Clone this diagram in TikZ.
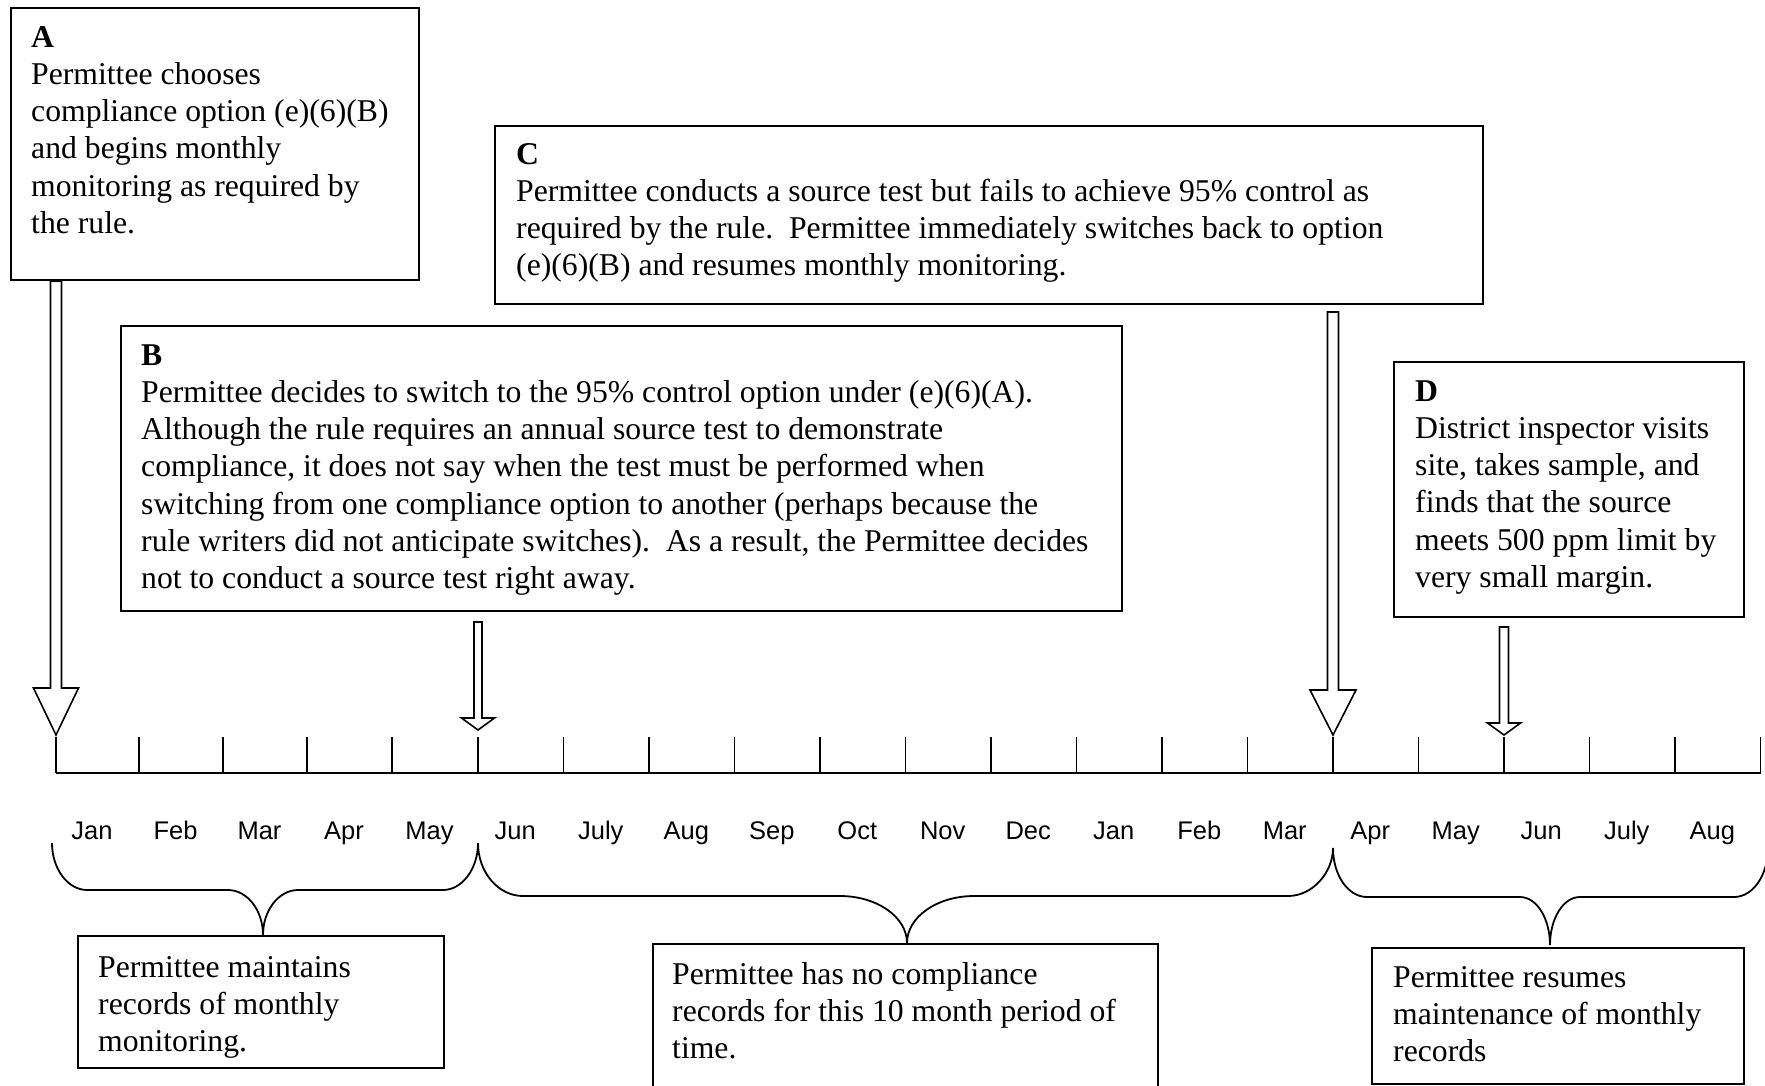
\documentclass[tikz,border=0pt]{standalone}
\usepackage{fontspec}
\setmainfont{Liberation Serif}
\setsansfont{Liberation Sans}
\usetikzlibrary{calc}
\newcommand{\blkarrow}[5]{%
  \draw[blockarrow] let \p1=#1, \p2=#2 in
    (\x2-#3,\y1) -- (\x2-#3,\y2+#5) -- (\x2-#4,\y2+#5) -- (\x2,\y2)
    -- (\x2+#4,\y2+#5) -- (\x2+#3,\y2+#5) -- (\x2+#3,\y1) -- cycle;}
\tikzset{
  box/.style={draw, line width=2pt, inner sep=0pt, anchor=north west},
  txt/.style={anchor=base west, inner sep=0pt, font=\fontsize{31.7}{37.3}\selectfont},
  month/.style={anchor=base, inner sep=0pt, font=\sffamily\fontsize{25.5}{30}\selectfont},
  blockarrow/.style={draw, line width=1.6pt, fill=white, line join=miter},
  tline/.style={line width=2.4pt},
  tickline/.style={line width=1.8pt},
  bracket/.style={line width=1.8pt}
}
\begin{document}
\begin{tikzpicture}[x=1pt,y=-1pt]
\useasboundingbox (0,0) rectangle (1765,1085);
\fill[white] (0,0) rectangle (1765,1085);
\clip (0,0) rectangle (1765,1085);

% ticks
\foreach \xx [count=\i from 0] in {56,139,223,307,392,478,563.5,649,734.5,820,905.5,991,1076.5,1162,1247.5,1333,1418.5,1504,1589.5,1675,1760.5}{
  \coordinate (tk\i) at (\xx,737);
  \coordinate (tb\i) at (\xx,773);
}
\draw[tline] (tb0) -- (tb20);
\foreach \i in {0,...,20}{ \draw[tickline] (tk\i) -- (tb\i); }

% months
\foreach \m [count=\i from 0] in {Jan,Feb,Mar,Apr,May,Jun,July,Aug,Sep,Oct,Nov,Dec,Jan,Feb,Mar,Apr,May,Jun,July,Aug}{
  \pgfmathtruncatemacro{\j}{\i+1}
  \node[month] (m\i) at ($(tk\i)!0.5!(tk\j)+(-5.5,102)$) {\m};
}

% boxes
\node[box, minimum width=408pt, minimum height=272pt] (A) at (10,7) {};
\node[box, minimum width=988pt, minimum height=178pt] (C) at (494,125) {};
\node[box, minimum width=1001pt, minimum height=285pt] (B) at (120,325) {};
\node[box, minimum width=350pt, minimum height=255pt] (D) at (1393,361) {};
\node[box, minimum width=366pt, minimum height=132pt] (E) at (77,935) {};
\node[box, minimum width=505pt, minimum height=160pt] (F) at (652,943) {};
\node[box, minimum width=372pt, minimum height=136pt] (G) at (1371,947) {};

% texts
\node[txt] (tA) at ($(A.north west)+(21,40)$) {\begin{tabular}[t]{@{}l@{}}\textbf{A}\\Permittee chooses\\compliance option (e)(6)(B)\\and begins monthly\\monitoring as required by\\the rule.\end{tabular}};
\node[txt] (tC) at ($(C.north west)+(22,39)$) {\begin{tabular}[t]{@{}l@{}}\textbf{C}\\Permittee conducts a source test but fails to achieve 95\% control as\\required by the rule.\ \ Permittee immediately switches back to option\\(e)(6)(B) and resumes monthly monitoring.\end{tabular}};
\node[txt] (tB) at ($(B.north west)+(21,40)$) {\begin{tabular}[t]{@{}l@{}}\textbf{B}\\Permittee decides to switch to the 95\% control option under (e)(6)(A).\\Although the rule requires an annual source test to demonstrate\\compliance, it does not say when the test must be performed when\\switching from one compliance option to another (perhaps because the\\rule writers did not anticipate switches).\ \ As a result, the Permittee decides\\not to conduct a source test right away.\end{tabular}};
\node[txt] (tD) at ($(D.north west)+(22,40)$) {\begin{tabular}[t]{@{}l@{}}\textbf{D}\\District inspector visits\\site, takes sample, and\\finds that the source\\meets 500 ppm limit by\\very small margin.\end{tabular}};
\node[txt] (tE) at ($(E.north west)+(21,42)$) {\begin{tabular}[t]{@{}l@{}}Permittee maintains\\records of monthly\\monitoring.\end{tabular}};
\node[txt] (tF) at ($(F.north west)+(20,41)$) {\begin{tabular}[t]{@{}l@{}}Permittee has no compliance\\records for this 10 month period of\\time.\end{tabular}};
\node[txt] (tG) at ($(G.north west)+(22,40)$) {\begin{tabular}[t]{@{}l@{}}Permittee resumes\\maintenance of monthly\\records\end{tabular}};

% block arrows
\blkarrow{(A.south -| tk0)}{($(tk0)+(0,-2)$)}{5.5}{22.5}{47}
\blkarrow{($(B.south -| tk5)+(0,10)$)}{($(tk5)+(0,-7)$)}{4}{16.5}{12}
\blkarrow{($(C.south -| tk15)+(0,7)$)}{($(tk15)+(0,-2)$)}{5.5}{23}{45}
\blkarrow{($(D.south -| tk17)+(0,9)$)}{($(tk17)+(0,-2)$)}{4.5}{16.5}{12}

% braces
\coordinate (p1) at (263,935);
\coordinate (p2) at (907,943);
\coordinate (p3) at (1550,945);
\draw[bracket] (52,843) .. controls (52,869) and (68,890) .. (87,890) -- (228,890)
  .. controls (247,890) and (263,910) .. (p1)
  .. controls (263,910) and (279,890) .. (298,890) -- (443,890)
  .. controls (462,890) and (478,869) .. (478,843);
\draw[bracket] (478,843) .. controls (478,872) and (498,896) .. (523,896) -- (840,896)
  .. controls (877,896) and (907,917) .. (p2)
  .. controls (907,917) and (937,896) .. (974,896) -- (1288,896)
  .. controls (1313,896) and (1333,872) .. (1333,848);
\draw[bracket] (1333,848) .. controls (1333,875) and (1348,897) .. (1367,897) -- (1520,897)
  .. controls (1537,897) and (1550,919) .. (p3)
  .. controls (1550,919) and (1563,897) .. (1580,897) -- (1734,897)
  .. controls (1753,897) and (1768,875) .. (1768,848);
\end{tikzpicture}
\end{document}
